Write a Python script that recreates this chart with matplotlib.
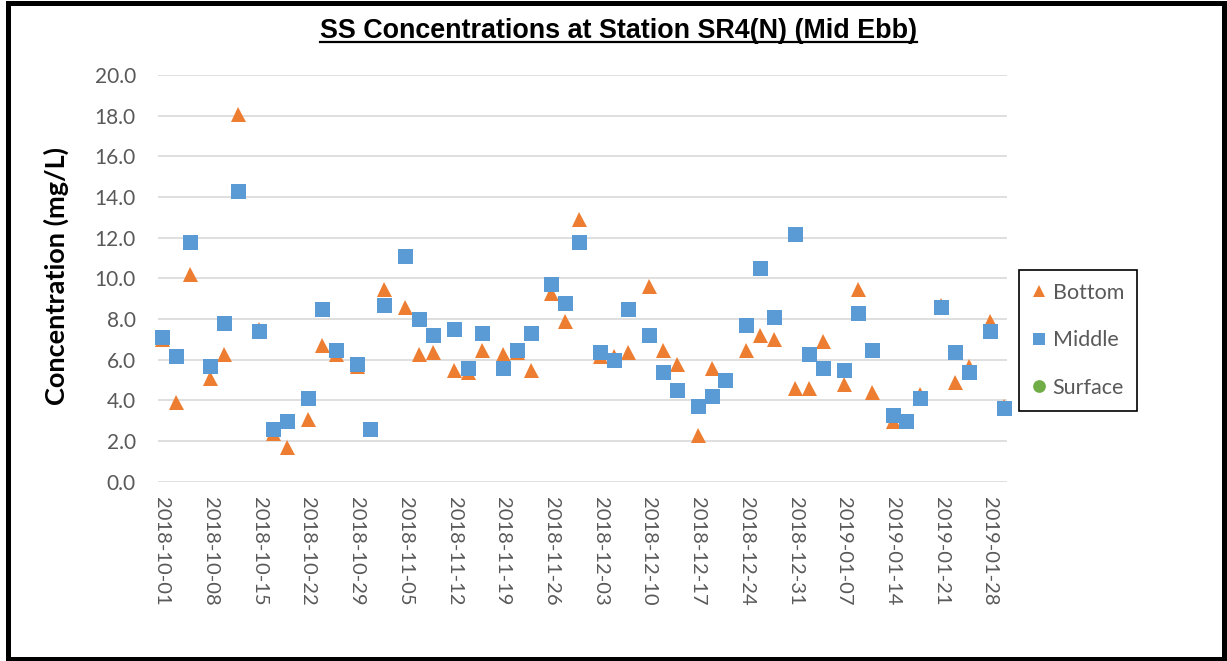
import numpy as np
import matplotlib
matplotlib.use("Agg")
import matplotlib.pyplot as plt
import matplotlib.dates as mdates
from matplotlib.patches import Rectangle
from matplotlib.lines import Line2D

# Sampling dates (Mon / Wed / Fri) and suspended-solids readings (mg/L)
sample_dates = [
    "2018-10-01", "2018-10-03", "2018-10-05", "2018-10-08", "2018-10-10", "2018-10-12",
    "2018-10-15", "2018-10-17", "2018-10-19", "2018-10-22", "2018-10-24", "2018-10-26",
    "2018-10-29", "2018-10-31", "2018-11-02", "2018-11-05", "2018-11-07", "2018-11-09",
    "2018-11-12", "2018-11-14", "2018-11-16", "2018-11-19", "2018-11-21", "2018-11-23",
    "2018-11-26", "2018-11-28", "2018-11-30", "2018-12-03", "2018-12-05", "2018-12-07",
    "2018-12-10", "2018-12-12", "2018-12-14", "2018-12-17", "2018-12-19", "2018-12-21",
    "2018-12-24", "2018-12-26", "2018-12-28", "2018-12-31", "2019-01-02", "2019-01-04",
    "2019-01-07", "2019-01-09", "2019-01-11", "2019-01-14", "2019-01-16", "2019-01-18",
    "2019-01-21", "2019-01-23", "2019-01-25", "2019-01-28", "2019-01-30",
]

bottom = [
    7.0, 3.9, 10.2, 5.1, 6.3, 18.1,
    7.5, 2.4, 1.7, 3.1, 6.7, 6.3,
    5.7, 2.6, 9.5, 8.6, 6.3, 6.4,
    5.5, 5.4, 6.5, 6.3, 6.4, 5.5,
    9.3, 7.9, 12.9, 6.2, 6.2, 6.4,
    9.6, 6.5, 5.8, 2.3, 5.6, 5.0,
    6.5, 7.2, 7.0, 4.6, 4.6, 6.9,
    4.8, 9.5, 4.4, 3.0, 3.0, 4.3,
    8.7, 4.9, 5.7, 7.9, 3.7,
]

middle = [
    7.1, 6.2, 11.8, 5.7, 7.8, 14.3,
    7.4, 2.6, 3.0, 4.1, 8.5, 6.5,
    5.8, 2.6, 8.7, 11.1, 8.0, 7.2,
    7.5, 5.6, 7.3, 5.6, 6.5, 7.3,
    9.7, 8.8, 11.8, 6.4, 6.0, 8.5,
    7.2, 5.4, 4.5, 3.7, 4.2, 5.0,
    7.7, 10.5, 8.1, 12.2, 6.3, 5.6,
    5.5, 8.3, 6.5, 3.3, 3.0, 4.1,
    8.6, 6.4, 5.4, 7.4, 3.6,
]

surface_dates = []
surface = []

tick_dates = [
    "2018-10-01", "2018-10-08", "2018-10-15", "2018-10-22", "2018-10-29",
    "2018-11-05", "2018-11-12", "2018-11-19", "2018-11-26", "2018-12-03",
    "2018-12-10", "2018-12-17", "2018-12-24", "2018-12-31", "2019-01-07",
    "2019-01-14", "2019-01-21", "2019-01-28",
]
y_ticks = [0, 2, 4, 6, 8, 10, 12, 14, 16, 18, 20]

W, H, DPI = 1227, 661, 100
fig = plt.figure(figsize=(W / DPI, H / DPI), dpi=DPI)
fig.patch.set_facecolor("white")

# Plot area in pixel terms
left, right, top, bot = 158, 1007, 75, 481.7
ax = fig.add_axes([left / W, 1 - bot / H, (right - left) / W, (bot - top) / H])

to_num = lambda seq: mdates.date2num(np.array(seq, dtype="datetime64[D]"))
x = to_num(sample_dates)

ORANGE, BLUE, GREEN = "#ED7D31", "#5B9BD5", "#70AD47"
ms = 10.8
h_b, = ax.plot(x, bottom, linestyle="none", marker="^", markersize=ms,
               color=ORANGE, markeredgewidth=0, label="Bottom", zorder=3, clip_on=False)
h_m, = ax.plot(x, middle, linestyle="none", marker="s", markersize=ms,
               color=BLUE, markeredgewidth=0, label="Middle", zorder=4, clip_on=False)
h_s, = ax.plot(to_num(surface_dates) if surface_dates else [], surface,
               linestyle="none", marker="o", markersize=ms,
               color=GREEN, markeredgewidth=0, label="Surface", zorder=5, clip_on=False)

x0 = to_num(["2018-10-01"])[0]
ax.set_xlim(x0 - 0.53, x0 + 121.45)
ax.set_ylim(0, 20)

ax.set_yticks(y_ticks)
ax.set_yticklabels([f"{v:.1f}" for v in y_ticks])
ax.set_xticks(to_num(tick_dates))
ax.set_xticklabels(tick_dates, rotation=270)

TICK_FONT = "Lato"
GRAY = "#595959"
for lab in ax.get_yticklabels():
    lab.set_fontfamily(TICK_FONT)
    lab.set_fontsize(15)
    lab.set_color(GRAY)
for lab in ax.get_xticklabels():
    lab.set_fontfamily(TICK_FONT)
    lab.set_fontsize(14.5)
    lab.set_color(GRAY)
    lab.set_va("top")
    lab.set_ha("center")

ax.tick_params(axis="y", length=0, pad=16)
ax.tick_params(axis="x", length=0, pad=11)
ax.grid(axis="y", color="#D9D9D9", linewidth=1.2)
ax.set_axisbelow(True)
for sp in ax.spines.values():
    sp.set_visible(False)

# Axis title
fig.text(56.7 / W, 1 - 276 / H, "Concentration (mg/L)", rotation=90,
         ha="center", va="center", fontsize=19.5, fontweight="bold",
         family="Lato", color="black")

# Chart title with underline
title = fig.text(618.5 / W, 1 - 38 / H, "SS Concentrations at Station SR4(N) (Mid Ebb)",
                 ha="center", va="baseline", fontsize=19.4, fontweight="bold",
                 family="Liberation Sans", color="black")
renderer = fig.canvas.get_renderer()
bb = title.get_window_extent(renderer)
uy = (H - 41.5) / H
fig.add_artist(Line2D([bb.x0 / W, bb.x1 / W], [uy, uy], transform=fig.transFigure,
                      color="black", linewidth=1.6))

# Legend
leg = fig.legend(handles=[h_b, h_m, h_s], loc="upper left",
                 bbox_to_anchor=(1019 / W, 1 - 270 / H), bbox_transform=fig.transFigure,
                 borderaxespad=0, borderpad=0.6, labelspacing=1.27,
                 handlelength=0.66, handletextpad=0.3, markerscale=0.85,
                 fancybox=False, framealpha=1, edgecolor="black",
                 prop={"family": "Lato", "size": 15.5})
leg.get_frame().set_linewidth(1.2)
for t in leg.get_texts():
    t.set_color(GRAY)

# Outer frame around the whole chart
fig.add_artist(Rectangle((7.5 / W, 2.5 / H), (1224.5 - 7.5) / W, (658.5 - 2.5) / H,
                         transform=fig.transFigure, fill=False,
                         edgecolor="black", linewidth=3.6))

fig.savefig("out.png", dpi=DPI)
